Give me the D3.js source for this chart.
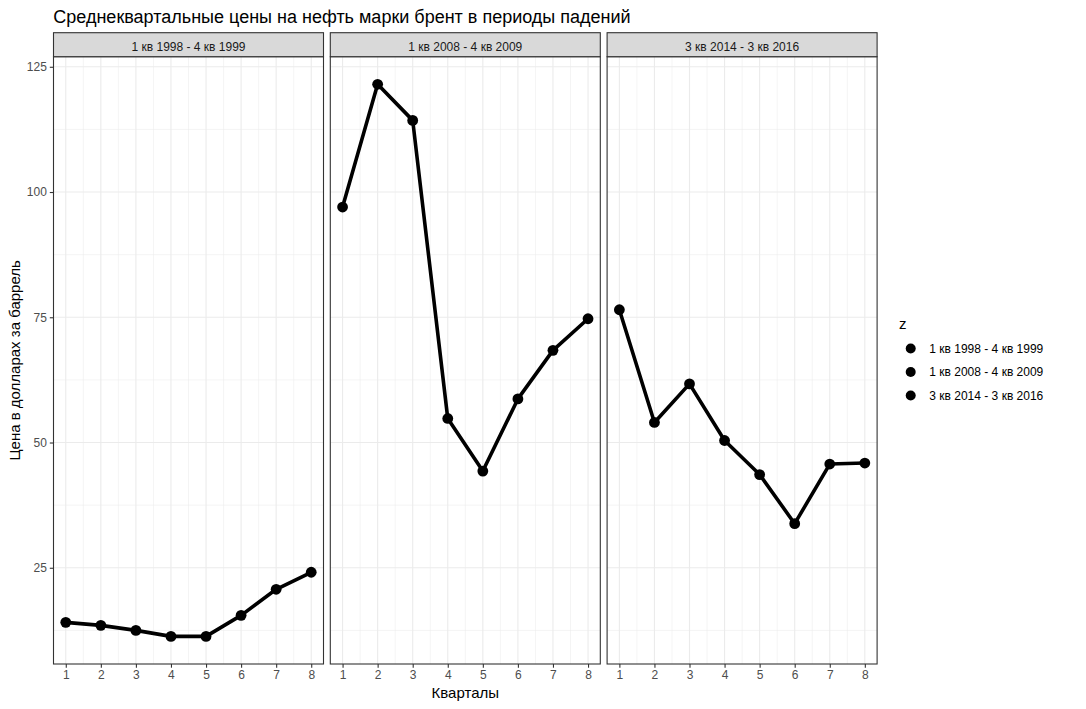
<!DOCTYPE html>
<html>
<head>
<meta charset="utf-8">
<script src="https://cdn.jsdelivr.net/npm/d3@7"></script>
<style>
  html, body { margin: 0; padding: 0; background: #fff; }
  svg { display: block; font-family: "Liberation Sans", Arial, sans-serif; }
</style>
</head>
<body>
<svg id="chart" width="1086" height="709"></svg>
<script>
// ---- data ----
const quarters = [1, 2, 3, 4, 5, 6, 7, 8];
const periods = ["1 кв 1998 - 4 кв 1999", "1 кв 2008 - 4 кв 2009", "3 кв 2014 - 3 кв 2016"];
const prices1998 = [14.1, 13.5, 12.5, 11.3, 11.3, 15.5, 20.7, 24.1];
const prices2008 = [97.0, 121.5, 114.3, 54.8, 44.3, 58.7, 68.4, 74.7];
const prices2014 = [76.5, 54.0, 61.7, 50.4, 43.6, 33.8, 45.7, 45.9];
const yTicks = [25, 50, 75, 100, 125];
const yMinor = [12.5, 37.5, 62.5, 87.5, 112.5];
const xMinor = [1.5, 2.5, 3.5, 4.5, 5.5, 6.5, 7.5];
const titleText = "Среднеквартальные цены на нефть марки брент в периоды падений";
const xTitle = "Кварталы";
const yTitle = "Цена в долларах за баррель";
const legendTitle = "z";

const series = [prices1998, prices2008, prices2014];

// ---- layout ----
const svg = d3.select("#chart");
const panelLeft = 53.5, panelW = 270, panelGap = 6.8;
const panelTop = 56.7, panelBottom = 664;
const stripTop = 32.7;

const allVals = series.flat();
const [ymin, ymax] = d3.extent(allVals);
const yPad = (ymax - ymin) * 0.05;
const y = d3.scaleLinear().domain([ymin - yPad, ymax + yPad]).range([panelBottom, panelTop]);

const xPad = (8 - 1) * 0.05;

// title
svg.append("text").attr("x", 53.3).attr("y", 22.5)
  .attr("font-size", 18).attr("fill", "#000").text(titleText);

periods.forEach((p, i) => {
  const x0 = panelLeft + i * (panelW + panelGap);
  const x = d3.scaleLinear().domain([1 - xPad, 8 + xPad]).range([x0, x0 + panelW]);
  const g = svg.append("g");

  // panel background
  g.append("rect").attr("x", x0).attr("y", panelTop).attr("width", panelW)
    .attr("height", panelBottom - panelTop).attr("fill", "#fff");

  // minor grid
  yMinor.forEach(v => g.append("line").attr("x1", x0).attr("x2", x0 + panelW)
    .attr("y1", y(v)).attr("y2", y(v)).attr("stroke", "#EBEBEB").attr("stroke-width", 0.55));
  xMinor.forEach(v => g.append("line").attr("y1", panelTop).attr("y2", panelBottom)
    .attr("x1", x(v)).attr("x2", x(v)).attr("stroke", "#EBEBEB").attr("stroke-width", 0.55));
  // major grid
  yTicks.forEach(v => g.append("line").attr("x1", x0).attr("x2", x0 + panelW)
    .attr("y1", y(v)).attr("y2", y(v)).attr("stroke", "#EBEBEB").attr("stroke-width", 1.1));
  quarters.forEach(v => g.append("line").attr("y1", panelTop).attr("y2", panelBottom)
    .attr("x1", x(v)).attr("x2", x(v)).attr("stroke", "#EBEBEB").attr("stroke-width", 1.1));

  // line + points
  const vals = series[i];
  const line = d3.line().x((d, j) => x(quarters[j])).y(d => y(d));
  g.append("path").datum(vals).attr("d", line).attr("fill", "none")
    .attr("stroke", "#000").attr("stroke-width", 3.6).attr("stroke-linejoin", "round");
  g.selectAll("circle.pt").data(vals).enter().append("circle")
    .attr("cx", (d, j) => x(quarters[j])).attr("cy", d => y(d)).attr("r", 5.4).attr("fill", "#000");

  // panel border
  g.append("rect").attr("x", x0).attr("y", panelTop).attr("width", panelW)
    .attr("height", panelBottom - panelTop).attr("fill", "none")
    .attr("stroke", "#333333").attr("stroke-width", 1.1);

  // strip
  g.append("rect").attr("x", x0).attr("y", stripTop).attr("width", panelW)
    .attr("height", panelTop - stripTop).attr("fill", "#D9D9D9")
    .attr("stroke", "#333333").attr("stroke-width", 1.1);
  g.append("text").attr("x", x0 + panelW / 2).attr("y", 50.5).attr("text-anchor", "middle")
    .attr("font-size", 12).attr("fill", "#1A1A1A").text(p);

  // x axis
  const xAxis = d3.axisBottom(x).tickValues(quarters).tickSize(3.7).tickPadding(3).tickFormat(d3.format("d"));
  const ax = svg.append("g").attr("transform", `translate(0,${panelBottom})`).call(xAxis);
  ax.select(".domain").remove();
  ax.selectAll(".tick line").attr("stroke", "#333333").attr("stroke-width", 1.1);
  ax.selectAll(".tick text").attr("font-size", 12).attr("fill", "#4D4D4D")
    .attr("font-family", "Liberation Sans, Arial, sans-serif");
});

// y axis
const yAxis = d3.axisLeft(y).tickValues(yTicks).tickSize(3.7).tickPadding(3);
const ay = svg.append("g").attr("transform", `translate(${panelLeft},0)`).call(yAxis);
ay.select(".domain").remove();
ay.selectAll(".tick line").attr("stroke", "#333333").attr("stroke-width", 1.1);
ay.selectAll(".tick text").attr("font-size", 12).attr("fill", "#4D4D4D")
  .attr("font-family", "Liberation Sans, Arial, sans-serif");

// axis titles
const panelsRight = panelLeft + 3 * panelW + 2 * panelGap;
svg.append("text").attr("x", (panelLeft + panelsRight) / 2).attr("y", 698)
  .attr("text-anchor", "middle").attr("font-size", 15).attr("fill", "#000").text(xTitle);
svg.append("text").attr("transform", `translate(19.5,${(panelTop + panelBottom) / 2}) rotate(-90)`)
  .attr("text-anchor", "middle").attr("font-size", 15).attr("fill", "#000").text(yTitle);

// legend
svg.append("text").attr("x", 899).attr("y", 329).attr("font-size", 15).attr("fill", "#000").text(legendTitle);
const legY = d3.scalePoint().domain(periods).range([348.5, 395.5]);
periods.forEach(p => {
  svg.append("circle").attr("cx", 910.7).attr("cy", legY(p)).attr("r", 5).attr("fill", "#000");
  svg.append("text").attr("x", 929.3).attr("y", legY(p) + 4.3).attr("font-size", 12)
    .attr("fill", "#000").text(p);
});
</script>
</body>
</html>
